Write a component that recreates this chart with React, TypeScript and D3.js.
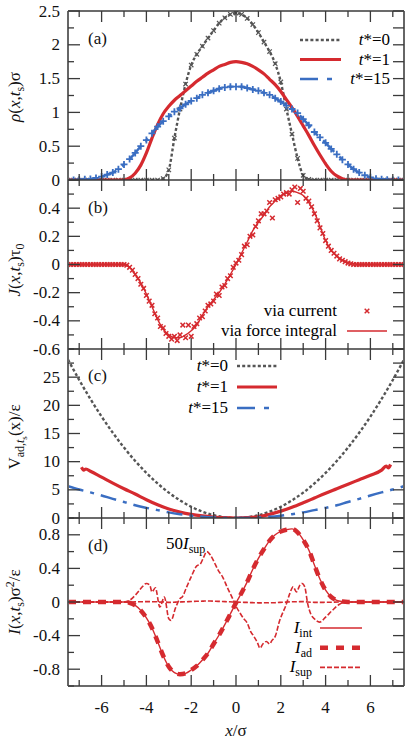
import React, { useEffect, useRef } from 'react';
import * as d3 from 'd3';

// sampling positions along x/σ
const xGrid = d3.range(-7.5, 7.5001, 0.25);
const xFine = d3.range(-7.5, 7.5001, 0.125);
const xCoarse = d3.range(-7.5, 7.5001, 0.5);

// (a) density profiles
const rhoT0 = [
    0, 0, 0, 0, 0, 0, 0, 0, 0, 0, 0, 0, 0, 0, 0, 0, 0,
    0.02, 0.15, 0.62, 1.05, 1.42, 1.70, 1.86, 1.98, 2.10, 2.21, 2.32, 2.40, 2.45,
    2.47,
    2.45, 2.39, 2.30, 2.18, 2.04, 1.90, 1.72, 1.45, 1.05, 0.68, 0.32, 0.07, 0.01,
    0, 0, 0, 0, 0, 0, 0, 0, 0, 0, 0, 0, 0, 0, 0, 0, 0,
];
const rhoT1 = [
    0, 0, 0, 0, 0, 0, 0, 0, 0, 0, 0,
    0.03, 0.10, 0.22, 0.40, 0.62, 0.82, 0.98, 1.09, 1.18, 1.25, 1.32, 1.39, 1.46, 1.52, 1.58, 1.63, 1.68, 1.71, 1.74,
    1.75,
    1.74, 1.72, 1.68, 1.63, 1.57, 1.49, 1.41, 1.31, 1.19, 1.07, 0.94, 0.80, 0.66, 0.51, 0.37, 0.24, 0.13, 0.06, 0.02,
    0, 0, 0, 0, 0, 0, 0, 0, 0, 0, 0,
];
const rhoT15 = [
    0, 0, 0.005, 0.01, 0.015, 0.03, 0.05, 0.08, 0.11, 0.16,
    0.23, 0.31, 0.40, 0.50, 0.59, 0.69, 0.79, 0.87, 0.94, 1.01,
    1.06, 1.12, 1.17, 1.21, 1.26, 1.29, 1.32, 1.35, 1.37, 1.38,
    1.38,
    1.38, 1.36, 1.34, 1.32, 1.29, 1.26, 1.21, 1.16, 1.10, 1.05,
    0.99, 0.90, 0.81, 0.71, 0.63, 0.55, 0.46, 0.38, 0.30, 0.23,
    0.16, 0.11, 0.07, 0.04, 0.02, 0.01, 0.005, 0, 0, 0,
];

// (b) current: via force integral (line) and via current (points)
const jForce = [
    0, 0, 0, 0, 0, 0, 0, 0, 0, 0,
    0, -0.02, -0.07, -0.13, -0.21, -0.30, -0.39, -0.46, -0.50, -0.52,
    -0.52, -0.50, -0.47, -0.43, -0.36, -0.30, -0.25, -0.20, -0.14, -0.07,
    0,
    0.08, 0.16, 0.24, 0.30, 0.35, 0.41, 0.45, 0.49, 0.51, 0.52,
    0.51, 0.49, 0.44, 0.37, 0.27, 0.17, 0.10, 0.06, 0.03, 0.015,
    0.005, 0, 0, 0, 0, 0, 0, 0, 0, 0,
];
const jCurrent = [
    0, 0, 0, 0, 0, 0, 0, 0, 0, 0, 0, 0, 0, 0, 0, 0, 0, 0, 0, 0, 0,
    -0.005, -0.02, -0.04, -0.07, -0.10, -0.14, -0.17, -0.22, -0.26, -0.29,
    -0.35, -0.38, -0.44, -0.45, -0.49, -0.51, -0.53, -0.51, -0.54, -0.50,
    -0.43, -0.52, -0.43, -0.51, -0.44, -0.42, -0.38, -0.37, -0.33, -0.29,
    -0.28, -0.26, -0.21, -0.22, -0.16, -0.15, -0.10, -0.08, -0.02, 0.01,
    0.03, 0.07, 0.13, 0.14, 0.20, 0.21, 0.27, 0.31, 0.36, 0.36,
    0.38, 0.44, 0.33, 0.46, 0.47, 0.48, 0.50, 0.51, 0.50, 0.53,
    0.55, 0.44, 0.54, 0.52, 0.47, 0.45, 0.41, 0.36, 0.31, 0.26,
    0.22, 0.17, 0.13, 0.10, 0.08, 0.06, 0.04, 0.03, 0.02, 0.01,
    0.005, 0, 0, 0, 0, 0, 0, 0, 0, 0, 0, 0, 0, 0, 0, 0, 0, 0, 0, 0,
];

// (c) adiabatic potential
const vT0 = [
    28.13, 24.5, 21.13, 18, 15.13, 12.5, 10.13, 8, 6.13, 4.5, 3.13, 2, 1.13, 0.5, 0.13,
    0,
    0.13, 0.5, 1.13, 2, 3.13, 4.5, 6.13, 8, 10.13, 12.5, 15.13, 18, 21.13, 24.5, 28.13,
];
const vT15 = [
    5.65, 5.05, 4.55, 4.0, 3.4, 2.85, 2.25, 1.8, 1.4, 1.0, 0.68, 0.42, 0.22, 0.09, 0.02,
    0,
    0.02, 0.09, 0.22, 0.42, 0.68, 1.0, 1.4, 1.8, 2.25, 2.85, 3.4, 4.0, 4.55, 5.05, 5.65,
];
const vT1X = [
    -6.9, -6.8, -6.7, -6.5, -6, -5.5, -5, -4.5, -4, -3.5, -3, -2.5, -2, -1.5, -1, -0.5,
    0, 0.5, 1, 1.5, 2, 2.5, 3, 3.5, 4, 4.5, 5, 5.5, 6, 6.5, 6.7, 6.8, 6.9,
];
const vT1 = [
    9.0, 8.5, 8.7, 8.3, 7.25, 6.2, 5.2, 4.25, 3.25, 2.35, 1.6, 1.05, 0.65, 0.38, 0.18, 0.05,
    0, 0.05, 0.22, 0.65, 1.22, 1.9, 2.7, 3.55, 4.4, 5.2, 6.0, 6.8, 7.6, 8.5, 9.2, 8.9, 9.5,
];

// (d) force-density contributions
const iInt = [
    0, 0, 0, 0, 0, 0, 0, 0, 0, 0,
    0, -0.01, -0.04, -0.10, -0.19, -0.31, -0.47, -0.64, -0.77, -0.84,
    -0.86, -0.85, -0.81, -0.76, -0.69, -0.61, -0.50, -0.39, -0.27, -0.14,
    -0.01,
    0.11, 0.24, 0.39, 0.52, 0.63, 0.73, 0.80, 0.84, 0.86, 0.87,
    0.83, 0.74, 0.62, 0.44, 0.27, 0.14, 0.06, 0.02, 0.005, 0,
    0, 0, 0, 0, 0, 0, 0, 0, 0, 0,
];
const iAd = [
    0, 0, 0, 0, 0, 0, 0, 0, 0, 0,
    0, -0.01, -0.04, -0.10, -0.19, -0.31, -0.47, -0.64, -0.77, -0.84,
    -0.86, -0.85, -0.81, -0.76, -0.69, -0.61, -0.50, -0.39, -0.27, -0.14,
    -0.01,
    0.11, 0.24, 0.39, 0.52, 0.63, 0.73, 0.80, 0.84, 0.86, 0.87,
    0.83, 0.74, 0.62, 0.44, 0.27, 0.14, 0.06, 0.02, 0.005, 0,
    0, 0, 0, 0, 0, 0, 0, 0, 0, 0,
];
const iSup50X = [
    -7.5, -5.0, -4.75, -4.5, -4.25, -4.0, -3.85, -3.75, -3.6, -3.4, -3.2, -3.0, -2.9, -2.7,
    -2.5, -2.4, -2.2, -2.0, -1.75, -1.6, -1.45, -1.3, -1.15, -1.0, -0.8, -0.6, -0.4, -0.15,
    0.0, 0.2, 0.35, 0.5, 0.65, 0.8, 0.95, 1.07, 1.2, 1.36, 1.5, 1.6, 1.75, 1.95, 2.1, 2.2,
    2.4, 2.55, 2.7, 2.85, 2.95, 3.07, 3.2, 3.35, 3.5, 3.73, 4.0, 4.3, 4.6, 4.9, 7.5,
];
const iSup50 = [
    0, 0, 0.02, 0.08, 0.16, 0.22, 0.20, 0.12, 0.17, -0.06, 0.06, -0.20, -0.22, -0.07,
    0.04, 0.06, 0.18, 0.30, 0.43, 0.45, 0.53, 0.60, 0.56, 0.49, 0.38, 0.30, 0.18, 0.04,
    -0.05, -0.14, -0.20, -0.25, -0.35, -0.41, -0.48, -0.55, -0.50, -0.47, -0.50, -0.46, -0.41, -0.22, -0.12, -0.06,
    0.10, 0.18, 0.12, 0.20, 0.22, 0.18, -0.02, -0.15, -0.20, -0.24, -0.18, -0.10, -0.03, 0, 0,
];

// ticks and legend labels
const xMajor = [-6, -4, -2, 0, 2, 4, 6];
const rhoTicks = [0, 0.5, 1, 1.5, 2, 2.5];
const jTicks = [-0.6, -0.4, -0.2, 0, 0.2, 0.4];
const vTicks = [0, 5, 10, 15, 20, 25];
const iTicks = [-0.8, -0.4, 0, 0.4, 0.8];
const times = ['0', '1', '15'];

const FONT = '"Liberation Serif", "Times New Roman", serif';
const RED = '#d52a2f';
const BLUE = '#3a6ec2';
const GRAY = '#555555';
const AXIS = '#3a3a3a';

type Part = { t: string; it?: boolean; dy?: number; fs?: number };

const rich = (sel: any, parts: Part[]) => {
    let cur = 0;
    parts.forEach(p => {
        const target = p.dy || 0;
        const ts = sel.append('tspan').text(p.t).attr('dy', target - cur);
        if (p.it) ts.attr('font-style', 'italic');
        if (p.fs) ts.attr('font-size', p.fs);
        cur = target;
    });
};

const sub = (t: string): Part => ({ t, dy: 4, fs: 12 });

const App = () => {
    const chartRef = useRef<SVGSVGElement>(null);

    useEffect(() => {
        drawChart();
    }, []);

    const drawChart = () => {
        const svg = d3.select(chartRef.current);
        svg.selectAll('*').remove();
        svg.attr('font-family', FONT).attr('font-size', 17);

        const left = 68;
        const right = 404;
        const x = d3.scaleLinear().domain([-7.5, 7.5]).range([left, right]);

        const panels = [
            { top: 11, bottom: 180, domain: [0, 2.5], ticks: rhoTicks, minor: 0.25 },
            { top: 180, bottom: 349, domain: [-0.6, 0.6], ticks: jTicks, minor: 0.1 },
            { top: 349, bottom: 518, domain: [0, 30], ticks: vTicks, minor: 2.5 },
            { top: 518, bottom: 686, domain: [-1, 1], ticks: iTicks, minor: 0.2 },
        ];
        const ys = panels.map(p =>
            d3.scaleLinear().domain(p.domain).range([p.bottom, p.top])
        );

        const defs = svg.append('defs');
        panels.forEach((p, i) => {
            defs.append('clipPath').attr('id', `clip${i}`)
                .append('rect')
                .attr('x', left).attr('y', p.top)
                .attr('width', right - left).attr('height', p.bottom - p.top);
        });

        const layer = (i: number) => svg.append('g').attr('clip-path', `url(#clip${i})`);

        const curve = (g: any, xs: number[], vs: number[], y: any, color: string, width: number, dash?: string) => {
            const pts: [number, number][] = vs.map((v, k) => [xs[k], v]);
            const path = g.append('path')
                .datum(pts)
                .attr('fill', 'none')
                .attr('stroke', color)
                .attr('stroke-width', width)
                .attr('d', d3.line<[number, number]>()
                    .x(d => x(d[0]))
                    .y(d => y(d[1]))
                    .curve(d3.curveMonotoneX));
            if (dash) path.attr('stroke-dasharray', dash);
        };

        const crossPath = (s: number) => `M${-s},${-s}L${s},${s}M${-s},${s}L${s},${-s}`;
        const plusPath = (s: number) => `M${-s},0H${s}M0,${-s}V${s}`;

        const markers = (g: any, xs: number[], vs: number[], y: any, shape: string, color: string, width: number) => {
            g.selectAll(null)
                .data(vs)
                .enter()
                .append('path')
                .attr('transform', (d: number, k: number) => `translate(${x(xs[k])},${y(d)})`)
                .attr('d', shape)
                .attr('fill', 'none')
                .attr('stroke', color)
                .attr('stroke-width', width);
        };

        // (a)
        const ga = layer(0);
        curve(ga, xGrid, rhoT0, ys[0], GRAY, 2.4, '3,2.2');
        markers(ga, xGrid, rhoT0, ys[0], crossPath(2.2), GRAY, 1.2);
        curve(ga, xGrid, rhoT1, ys[0], RED, 3.2);
        curve(ga, xGrid, rhoT15, ys[0], BLUE, 2.5, '16,7,4,7');
        markers(ga, xGrid, rhoT15, ys[0], plusPath(3.5), BLUE, 1.8);

        // (b)
        const gb = layer(1);
        curve(gb, xGrid, jForce, ys[1], RED, 1.4);
        markers(gb, xFine, jCurrent, ys[1], crossPath(2.3), RED, 1.5);

        // (c)
        const gc = layer(2);
        curve(gc, xCoarse, vT0, ys[2], GRAY, 2.4, '3,2.2');
        curve(gc, vT1X, vT1, ys[2], RED, 3.2);
        curve(gc, xCoarse, vT15, ys[2], BLUE, 2.5, '16,7,4,7');

        // (d)
        const gd = layer(3);
        curve(gd, xGrid, iInt, ys[3], RED, 1.4);
        curve(gd, xGrid, iAd, ys[3], RED, 4.5, '8,7');
        curve(gd, iSup50X, iSup50.map(v => v / 50), ys[3], RED, 1.6, '5,2');
        curve(gd, iSup50X, iSup50, ys[3], RED, 1.6, '5,2');

        // frame and ticks
        const axes = svg.append('g').attr('stroke', AXIS).attr('fill', 'none');
        const xMinor = d3.range(-7, 7.001, 1).filter(v => xMajor.indexOf(v) < 0);
        const borders = [11, 180, 349, 518, 686];
        borders.forEach((by, bi) => {
            axes.append('line').attr('x1', left).attr('x2', right)
                .attr('y1', by).attr('y2', by).attr('stroke-width', 1.6);
            const up = bi > 0;
            const down = bi < borders.length - 1;
            const tick = (v: number, len: number) => {
                axes.append('line')
                    .attr('x1', x(v)).attr('x2', x(v))
                    .attr('y1', up ? by - len : by)
                    .attr('y2', down ? by + len : by)
                    .attr('stroke-width', 1.3);
            };
            xMajor.forEach(v => tick(v, 11));
            xMinor.forEach(v => tick(v, 6));
        });
        axes.append('line').attr('x1', left).attr('x2', left)
            .attr('y1', 11).attr('y2', 686).attr('stroke', '#666').attr('stroke-width', 2);
        axes.append('line').attr('x1', right).attr('x2', right)
            .attr('y1', 11).attr('y2', 686).attr('stroke', '#666').attr('stroke-width', 2);

        const labels = svg.append('g').attr('fill', '#111');

        panels.forEach((p, i) => {
            const y = ys[i];
            const minors = d3.range(p.domain[0], p.domain[1] + p.minor / 2, p.minor);
            minors.forEach(v => {
                const isMajor = p.ticks.some(t => Math.abs(t - v) < 1e-6) || (Math.abs(v - p.domain[1]) < 1e-6 && i === 1);
                axes.append('line')
                    .attr('x1', left).attr('x2', left + (isMajor ? 12 : 6))
                    .attr('y1', y(v)).attr('y2', y(v)).attr('stroke-width', 1.3);
                axes.append('line')
                    .attr('x1', right).attr('x2', right - 11)
                    .attr('y1', y(v)).attr('y2', y(v)).attr('stroke-width', 1.3);
            });
            p.ticks.forEach(v => {
                labels.append('text')
                    .attr('x', left - 8)
                    .attr('y', y(v))
                    .attr('dy', '0.33em')
                    .attr('text-anchor', 'end')
                    .text(String(v));
            });
        });

        xMajor.forEach(v => {
            labels.append('text')
                .attr('x', x(v)).attr('y', 713)
                .attr('text-anchor', 'middle')
                .text(String(v));
        });
        rich(labels.append('text').attr('x', x(0)).attr('y', 736).attr('text-anchor', 'middle'),
            [{ t: 'x', it: true }, { t: '/σ' }]);

        // y axis titles
        const yTitle = (cy: number, parts: Part[]) => {
            rich(labels.append('text')
                .attr('transform', `translate(20,${cy}) rotate(-90)`)
                .attr('text-anchor', 'middle'), parts);
        };
        yTitle(97, [{ t: 'ρ', it: true }, { t: '(' }, { t: 'x', it: true }, { t: ',' }, { t: 't', it: true }, sub('s'), { t: ')σ' }]);
        yTitle(270, [{ t: 'J', it: true }, { t: '(' }, { t: 'x', it: true }, { t: ',' }, { t: 't', it: true }, sub('s'), { t: ')τ' }, sub('0')]);
        yTitle(437, [{ t: 'V' }, sub('ad,'), { t: 't', dy: 4, fs: 12, it: true }, { t: 's', dy: 7, fs: 9 }, { t: '(x)/ε' }]);
        yTitle(602, [{ t: 'I', it: true }, { t: '(' }, { t: 'x', it: true }, { t: ',' }, { t: 't', it: true }, sub('s'), { t: ')σ' }, { t: '2', dy: -6, fs: 12 }, { t: '/ε' }]);

        // panel tags
        ['(a)', '(b)', '(c)', '(d)'].forEach((t, i) => {
            labels.append('text').attr('x', 88).attr('y', [44, 213, 381, 551][i]).text(t);
        });

        // legend (a)
        const legA = svg.append('g');
        const styles = [
            { color: GRAY, width: 2.4, dash: '3,2.2' },
            { color: RED, width: 3.2, dash: null },
            { color: BLUE, width: 2.5, dash: '18,9,5,40' },
        ];
        times.forEach((t, i) => {
            const cy = 40 + i * 19.5;
            rich(legA.append('text').attr('x', 390).attr('y', cy + 5).attr('text-anchor', 'end'),
                [{ t: 't', it: true }, { t: '*=' + t }]);
            const s = styles[i];
            const l = legA.append('line').attr('x1', 300).attr('x2', 341).attr('y1', cy).attr('y2', cy)
                .attr('stroke', s.color).attr('stroke-width', s.width);
            if (s.dash) l.attr('stroke-dasharray', s.dash);
        });

        // legend (b)
        const legB = svg.append('g');
        legB.append('text').attr('x', 337).attr('y', 316).attr('text-anchor', 'end').text('via current');
        legB.append('path').attr('transform', 'translate(367,311)').attr('d', crossPath(2.3))
            .attr('stroke', RED).attr('stroke-width', 1.5).attr('fill', 'none');
        legB.append('text').attr('x', 337).attr('y', 336).attr('text-anchor', 'end').text('via force integral');
        legB.append('line').attr('x1', 347).attr('x2', 387).attr('y1', 331).attr('y2', 331)
            .attr('stroke', RED).attr('stroke-width', 1.4);

        // legend (c)
        const legC = svg.append('g');
        times.forEach((t, i) => {
            const cy = 366 + i * 21;
            rich(legC.append('text').attr('x', 228).attr('y', cy + 5).attr('text-anchor', 'end'),
                [{ t: 't', it: true }, { t: '*=' + t }]);
            const s = styles[i];
            const l = legC.append('line').attr('x1', 237).attr('x2', 277).attr('y1', cy).attr('y2', cy)
                .attr('stroke', s.color).attr('stroke-width', s.width);
            if (s.dash) l.attr('stroke-dasharray', s.dash);
        });

        // legend (d)
        const legD = svg.append('g');
        const dLabels = ['int', 'ad', 'sup'];
        const dStyles = [
            { width: 1.4, dash: null },
            { width: 4.5, dash: '8,8' },
            { width: 1.6, dash: '5,2' },
        ];
        dLabels.forEach((t, i) => {
            const cy = 628 + i * 19.7;
            rich(legD.append('text').attr('x', 312).attr('y', cy + 5).attr('text-anchor', 'end'),
                [{ t: 'I', it: true }, sub(t)]);
            const l = legD.append('line').attr('x1', 320).attr('x2', 362).attr('y1', cy).attr('y2', cy)
                .attr('stroke', RED).attr('stroke-width', dStyles[i].width);
            if (dStyles[i].dash) l.attr('stroke-dasharray', dStyles[i].dash);
        });
        rich(legD.append('text').attr('x', 166).attr('y', 549),
            [{ t: '50' }, { t: 'I', it: true }, sub('sup')]);
    };

    return (
        <svg
            ref={chartRef}
            width="415"
            height="742"
            style={{ position: 'absolute', left: 0, top: 0, background: '#fff' }}
        />
    );
};

export default App;
